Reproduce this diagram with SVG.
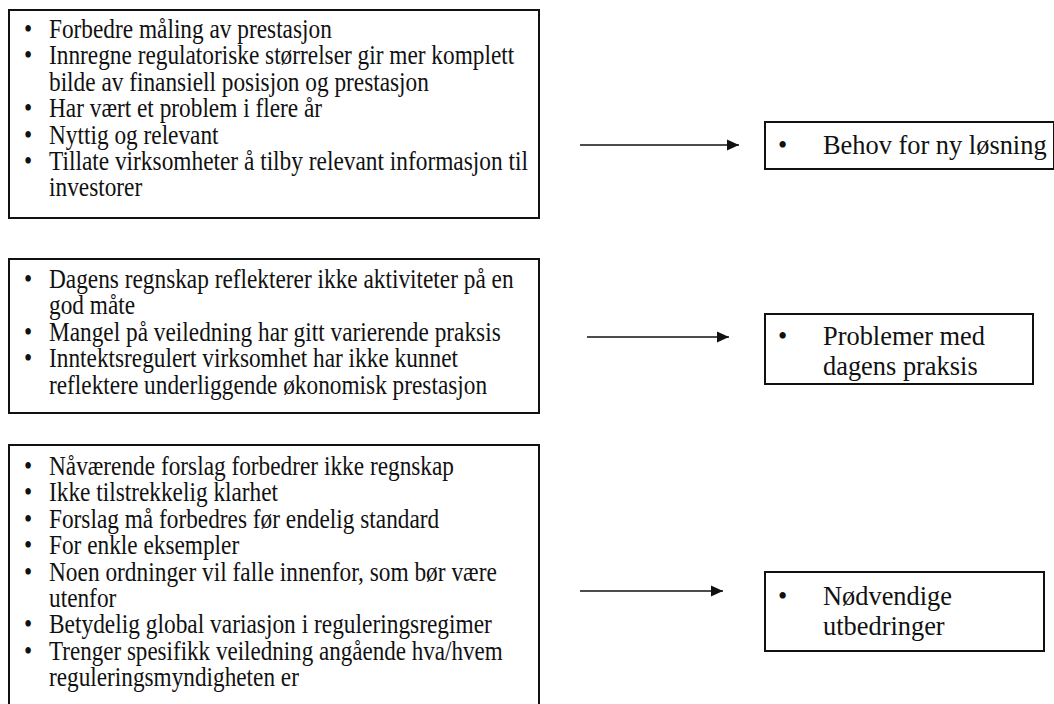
<svg xmlns="http://www.w3.org/2000/svg" width="1054" height="704" viewBox="0 0 1054 704">
<style>
.box{fill:#fff;stroke:#111;stroke-width:2}
.lt{font-family:"Liberation Serif","Times New Roman",serif;font-size:26.4px;fill:#111}
.rt{font-family:"Liberation Serif","Times New Roman",serif;font-size:26.4px;fill:#111}
.conn{stroke:#111;stroke-width:1.4;fill:none}
</style>
<defs>
<marker id="ah" markerUnits="userSpaceOnUse" markerWidth="13" markerHeight="12" refX="12" refY="6" orient="auto">
<path d="M0,0.5 L12,6 L0,11.5 z" fill="#111"/>
</marker>
</defs>
<rect width="1054" height="704" fill="#fff"/>
<g id="src1">
<rect class="box" x="9" y="10" width="530" height="208"/>
<text class="lt" x="24" y="38" textLength="8.2" lengthAdjust="spacingAndGlyphs">•</text>
<text class="lt" x="49" y="38" textLength="282.8" lengthAdjust="spacingAndGlyphs">Forbedre måling av prestasjon</text>
<text class="lt" x="24" y="64.4" textLength="8.2" lengthAdjust="spacingAndGlyphs">•</text>
<text class="lt" x="49" y="64.4" textLength="465.2" lengthAdjust="spacingAndGlyphs">Innregne regulatoriske størrelser gir mer komplett</text>
<text class="lt" x="49" y="90.8" textLength="379.9" lengthAdjust="spacingAndGlyphs">bilde av finansiell posisjon og prestasjon</text>
<text class="lt" x="24" y="117.2" textLength="8.2" lengthAdjust="spacingAndGlyphs">•</text>
<text class="lt" x="49" y="117.2" textLength="273.1" lengthAdjust="spacingAndGlyphs">Har vært et problem i flere år</text>
<text class="lt" x="24" y="143.6" textLength="8.2" lengthAdjust="spacingAndGlyphs">•</text>
<text class="lt" x="49" y="143.6" textLength="169.6" lengthAdjust="spacingAndGlyphs">Nyttig og relevant</text>
<text class="lt" x="24" y="170" textLength="8.2" lengthAdjust="spacingAndGlyphs">•</text>
<text class="lt" x="49" y="170" textLength="478.9" lengthAdjust="spacingAndGlyphs">Tillate virksomheter å tilby relevant informasjon til</text>
<text class="lt" x="49" y="196.4" textLength="93.2" lengthAdjust="spacingAndGlyphs">investorer</text>
</g>
<g id="src2">
<rect class="box" x="9" y="259" width="530" height="154"/>
<text class="lt" x="24" y="288" textLength="8.2" lengthAdjust="spacingAndGlyphs">•</text>
<text class="lt" x="49" y="288" textLength="464.6" lengthAdjust="spacingAndGlyphs">Dagens regnskap reflekterer ikke aktiviteter på en</text>
<text class="lt" x="49" y="314.4" textLength="86.1" lengthAdjust="spacingAndGlyphs">god måte</text>
<text class="lt" x="24" y="340.8" textLength="8.2" lengthAdjust="spacingAndGlyphs">•</text>
<text class="lt" x="49" y="340.8" textLength="451.7" lengthAdjust="spacingAndGlyphs">Mangel på veiledning har gitt varierende praksis</text>
<text class="lt" x="24" y="367.2" textLength="8.2" lengthAdjust="spacingAndGlyphs">•</text>
<text class="lt" x="49" y="367.2" textLength="409.0" lengthAdjust="spacingAndGlyphs">Inntektsregulert virksomhet har ikke kunnet</text>
<text class="lt" x="49" y="393.6" textLength="438.1" lengthAdjust="spacingAndGlyphs">reflektere underliggende økonomisk prestasjon</text>
</g>
<g id="src3">
<rect class="box" x="9" y="445" width="530" height="270"/>
<text class="lt" x="24" y="475" textLength="8.2" lengthAdjust="spacingAndGlyphs">•</text>
<text class="lt" x="49" y="475" textLength="405.0" lengthAdjust="spacingAndGlyphs">Nåværende forslag forbedrer ikke regnskap</text>
<text class="lt" x="24" y="501.4" textLength="8.2" lengthAdjust="spacingAndGlyphs">•</text>
<text class="lt" x="49" y="501.4" textLength="229.1" lengthAdjust="spacingAndGlyphs">Ikke tilstrekkelig klarhet</text>
<text class="lt" x="24" y="527.8" textLength="8.2" lengthAdjust="spacingAndGlyphs">•</text>
<text class="lt" x="49" y="527.8" textLength="390.2" lengthAdjust="spacingAndGlyphs">Forslag må forbedres før endelig standard</text>
<text class="lt" x="24" y="554.2" textLength="8.2" lengthAdjust="spacingAndGlyphs">•</text>
<text class="lt" x="49" y="554.2" textLength="190.2" lengthAdjust="spacingAndGlyphs">For enkle eksempler</text>
<text class="lt" x="24" y="580.6" textLength="8.2" lengthAdjust="spacingAndGlyphs">•</text>
<text class="lt" x="49" y="580.6" textLength="447.8" lengthAdjust="spacingAndGlyphs">Noen ordninger vil falle innenfor, som bør være</text>
<text class="lt" x="49" y="607" textLength="67.3" lengthAdjust="spacingAndGlyphs">utenfor</text>
<text class="lt" x="24" y="633.4" textLength="8.2" lengthAdjust="spacingAndGlyphs">•</text>
<text class="lt" x="49" y="633.4" textLength="442.9" lengthAdjust="spacingAndGlyphs">Betydelig global variasjon i reguleringsregimer</text>
<text class="lt" x="24" y="659.8" textLength="8.2" lengthAdjust="spacingAndGlyphs">•</text>
<text class="lt" x="49" y="659.8" textLength="453.6" lengthAdjust="spacingAndGlyphs">Trenger spesifikk veiledning angående hva/hvem</text>
<text class="lt" x="49" y="686.2" textLength="249.9" lengthAdjust="spacingAndGlyphs">reguleringsmyndigheten er</text>
</g>
<g id="res1">
<rect class="box" x="765" y="122" width="289" height="47"/>
<text class="rt"><tspan x="778" y="154">•</tspan><tspan x="823" y="154">Behov for ny løsning</tspan></text>
</g>
<g id="res2">
<rect class="box" x="765" y="314" width="268" height="70"/>
<text class="rt"><tspan x="778" y="345">•</tspan><tspan x="823" y="345">Problemer med</tspan><tspan x="823" y="375">dagens praksis</tspan></text>
</g>
<g id="res3">
<rect class="box" x="765" y="572" width="279" height="79"/>
<text class="rt"><tspan x="778" y="605">•</tspan><tspan x="823" y="605">Nødvendige</tspan><tspan x="823" y="635">utbedringer</tspan></text>
</g>
<g id="connectors">
<line class="conn" x1="580" y1="145" x2="739" y2="145" marker-end="url(#ah)"/>
<line class="conn" x1="587" y1="337" x2="729" y2="337" marker-end="url(#ah)"/>
<line class="conn" x1="580" y1="591" x2="723" y2="591" marker-end="url(#ah)"/>
</g>
</svg>
